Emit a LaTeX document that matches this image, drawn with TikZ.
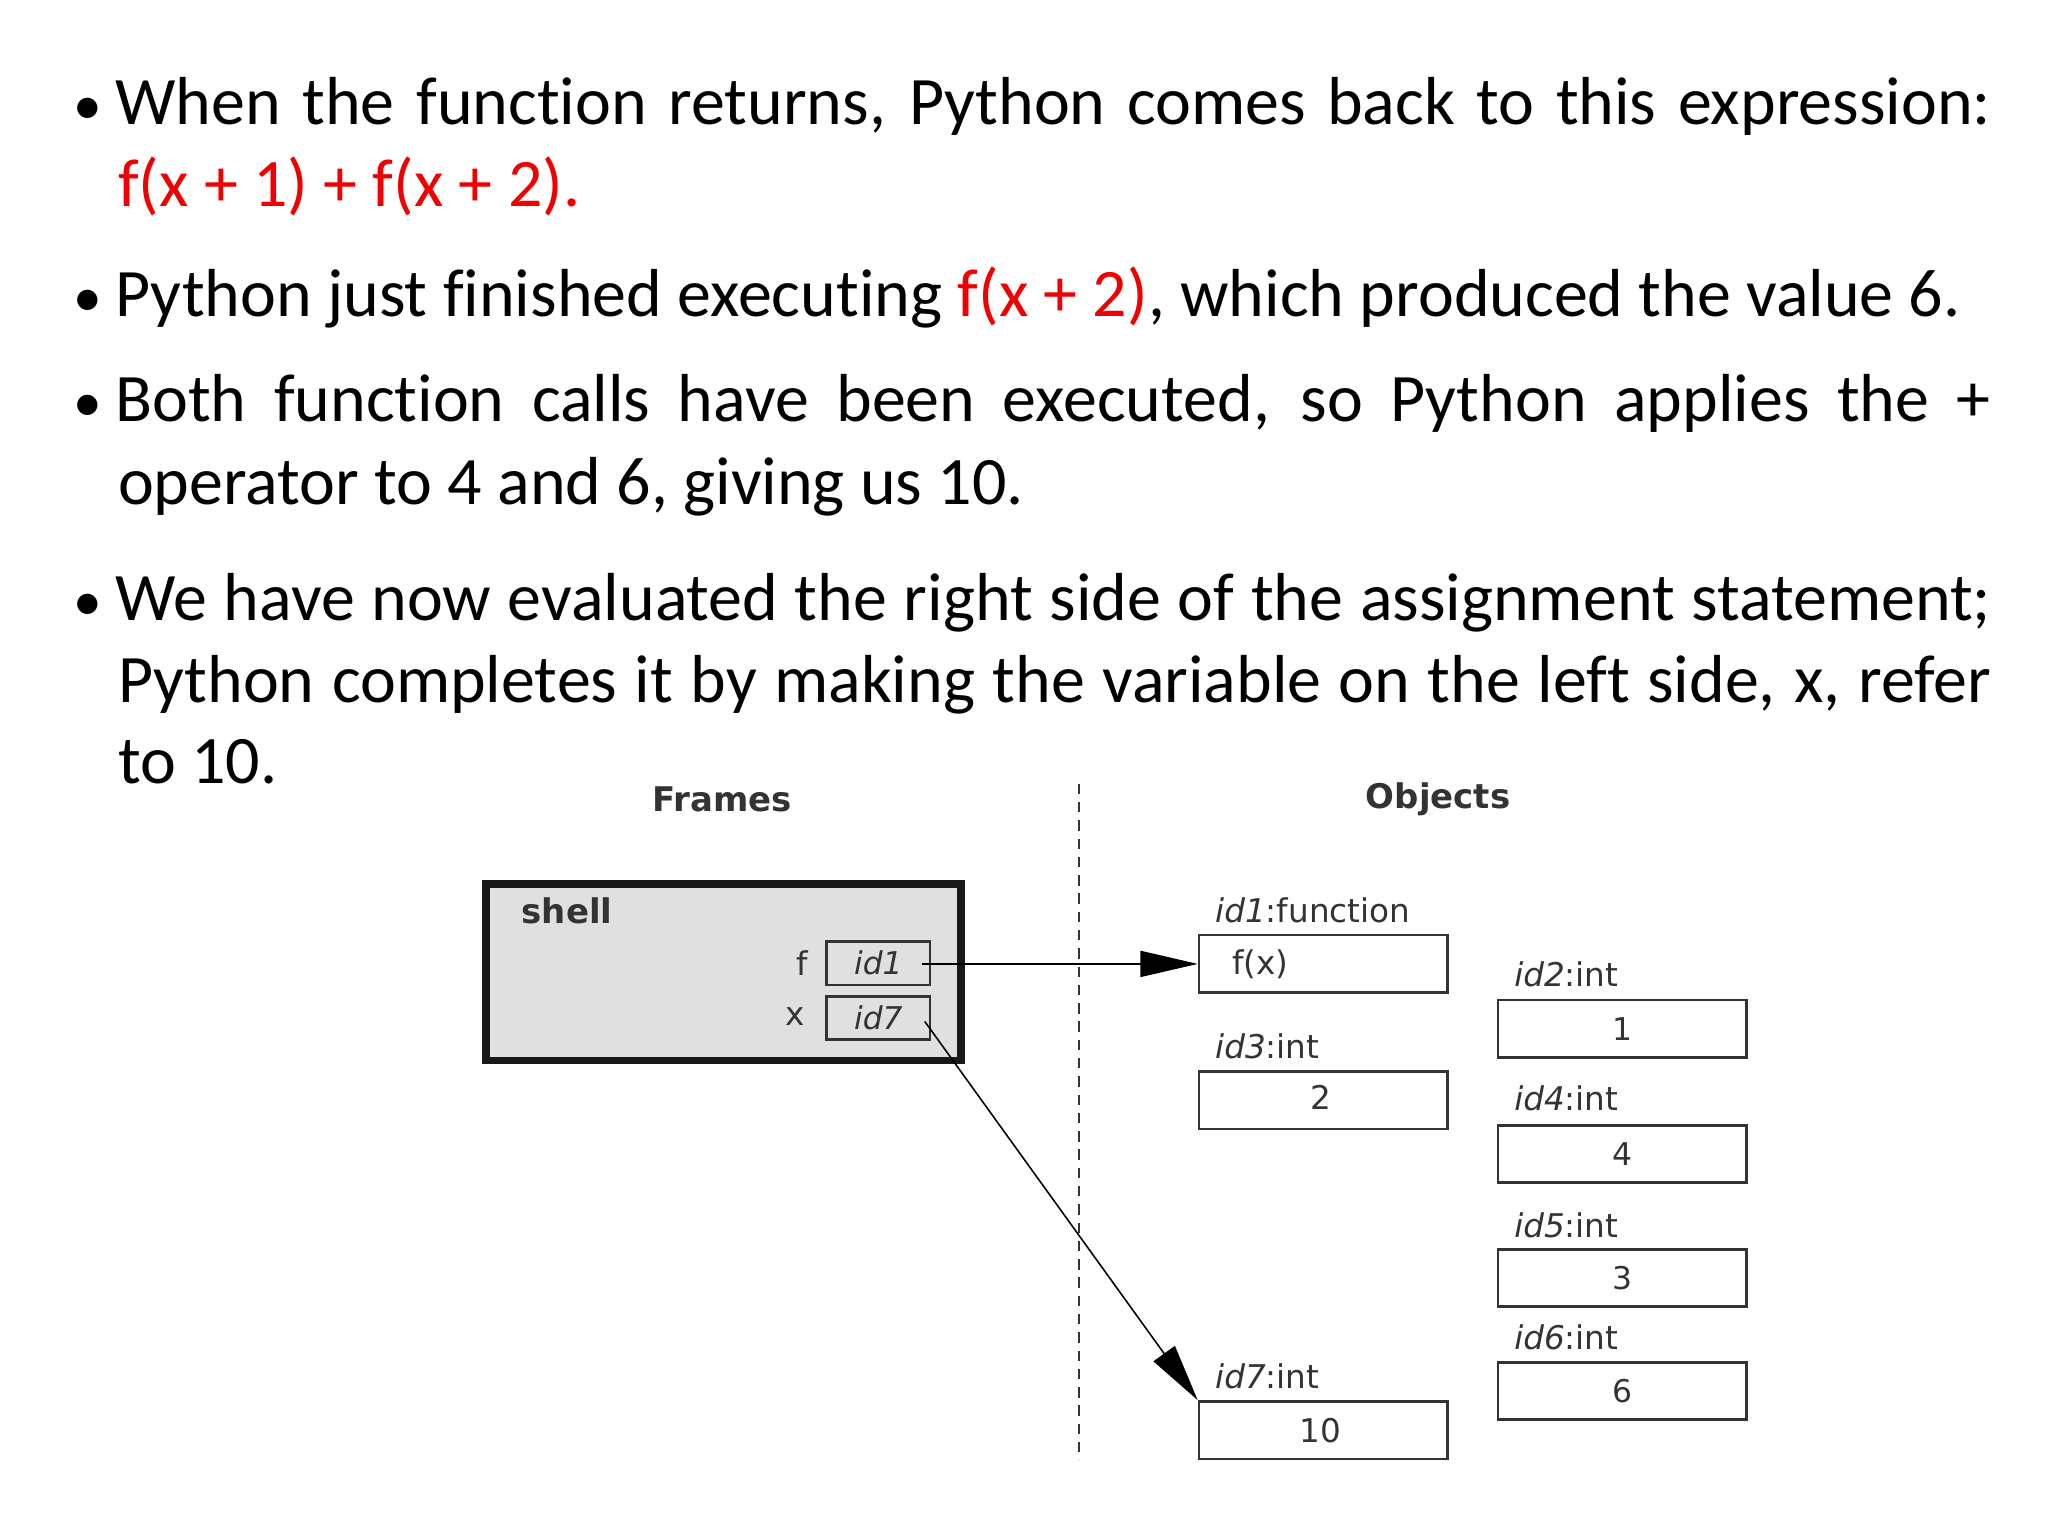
\documentclass[tikz,border=0pt]{standalone}
\usepackage{fontspec}
\setmainfont[Ligatures=NoCommon]{Carlito}
\newfontfamily\djsans{DejaVu Sans}
\usetikzlibrary{arrows.meta}
\begin{document}
\begin{tikzpicture}[x=0.5pt,y=-0.5pt,
  ln/.style={anchor=base west,inner sep=0pt,font=\fontsize{26}{30}\selectfont},
  bl/.style={anchor=base west,inner sep=0pt,font=\fontsize{22}{28}\selectfont},
  dt/.style={inner sep=0pt,font=\djsans\fontsize{12.5}{14}\selectfont,text=black!80},
  lb/.style={dt,anchor=west},
  hd/.style={inner sep=0pt,font=\djsans\bfseries\fontsize{13}{15}\selectfont,text=black!80},
  obj/.style={draw=black!80,line width=1pt,minimum width=95pt,minimum height=22pt,inner sep=0pt,font=\djsans\fontsize{12}{14}\selectfont,text=black!80},
  vbox/.style={draw=black!80,line width=1pt,minimum width=39.5pt,minimum height=16.5pt,inner sep=0pt,font=\djsans\itshape\fontsize{12}{14}\selectfont,text=black!80},
  ar/.style={-{Triangle[length=22pt,width=10pt]},line width=0.6pt}]
\useasboundingbox (0,0) rectangle (1568,1176);
\definecolor{rd}{RGB}{240,0,0}
% text
\node[bl] (b1) at (56,95) {•};
\node[ln] (l1) at (88,95) {\makebox[718pt][s]{When the function returns, Python comes back to this expression:}};
\node[ln] (l2) at (90,158) {\textcolor{rd}{f(x + 1) + f(x + 2).}};
\node[bl] (b2) at (56,242) {•};
\node[ln] (l3) at (88,242) {Python just finished executing \textcolor{rd}{f(x + 2)}, which produced the value 6.};
\node[bl] (b3) at (56,323) {•};
\node[ln] (l4) at (88,323) {\makebox[718pt][s]{Both function calls have been executed, so Python applies the +}};
\node[ln] (l5) at (90,386) {operator to 4 and 6, giving us 10.};
\node[bl] (b4) at (56,475) {•};
\node[ln] (l6) at (88,475) {\makebox[718pt][s]{We have now evaluated the right side of the assignment statement;}};
\node[ln] (l7) at (90,538) {\makebox[717pt][s]{Python completes it by making the variable on the left side, x, refer}};
\node[ln] (l8) at (90,600) {to 10.};
% diagram
\draw[black!80,line width=1pt,dash pattern=on 4pt off 3pt] (826,600) -- (826,1118);
\node[hd] (fr) at (553,612) {Frames};
\node[hd] (ob) at (1101,612) {Objects};
\draw[line width=3pt,fill=black!12,draw=black!90] (372,677) rectangle (736,812);
\node[hd,anchor=west] (sh) at (399,697) {shell};
\node[dt] (fl) at (614,737) {f};
\node[dt] (xl) at (609,778) {x};
\node[vbox] (v1) at (672.5,737.5) {id1};
\node[vbox] (v7) at (672.5,779.5) {id7};
\node[obj,fill=white] (o1) at (1013,738) {};
\node[lb] (o1t) at (943,738) {f(x)};
\node[lb] (o1l) at (930,697) {\textit{id1}:function};
\node[obj] (o2) at (1242,787.5) {1};
\node[lb] (o2l) at (1159,746) {\textit{id2}:int};
\node[obj] (o3) at (1013,842.5) {};
\node[dt] (o3t) at (1011,840) {2};
\node[lb] (o3l) at (930,801) {\textit{id3}:int};
\node[obj] (o4) at (1242,883.5) {4};
\node[lb] (o4l) at (1159,841) {\textit{id4}:int};
\node[obj] (o5) at (1242,978.5) {3};
\node[lb] (o5l) at (1159,938) {\textit{id5}:int};
\node[obj] (o6) at (1242,1065) {6};
\node[lb] (o6l) at (1159,1024) {\textit{id6}:int};
\node[obj] (o7) at (1013,1095) {};
\node[dt] (o7t) at (1011,1095) {10};
\node[lb] (o7l) at (930,1054) {\textit{id7}:int};
\coordinate (s1) at (706,738);
\coordinate (s7) at (708,782);
\draw[ar] (s1) -- (o1.west);
\draw[ar] (s7) -- (o7.north west);
\end{tikzpicture}
\end{document}
